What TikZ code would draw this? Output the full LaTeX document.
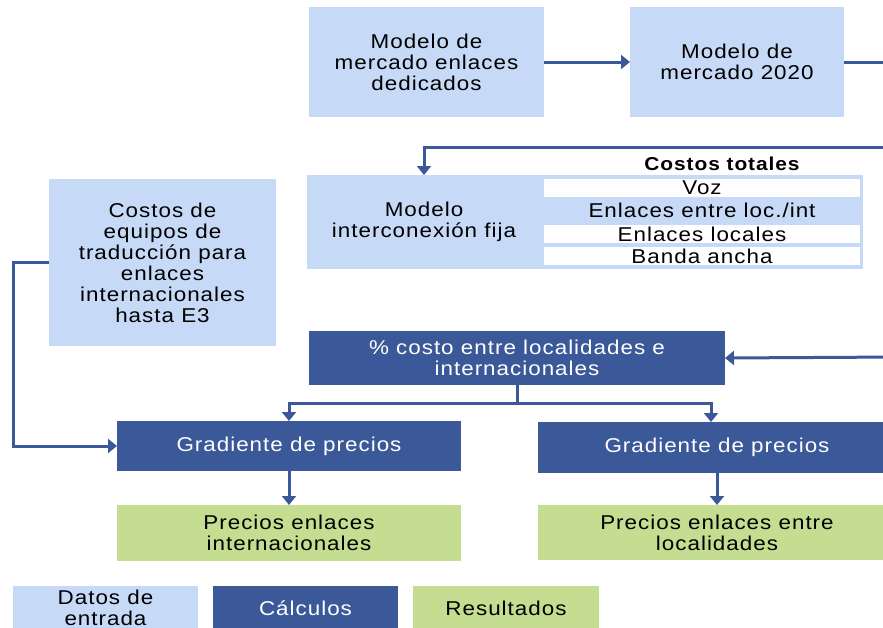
\documentclass[tikz,border=0pt]{standalone}
\usepackage{fontspec}
\setmainfont[LetterSpace=5,FakeStretch=1.12]{Liberation Sans}
\usetikzlibrary{arrows.meta}
\definecolor{lblue}{RGB}{198,217,246}
\definecolor{dblue}{RGB}{59,89,152}
\definecolor{lgreen}{RGB}{197,221,144}
\begin{document}
\begin{tikzpicture}[x=0.75pt,y=-0.75pt,
  every node/.style={inner sep=0pt, outer sep=0pt, align=center, font=\fontsize{15}{15.75}\selectfont},
  inbox/.style={fill=lblue, text=black},
  calcbox/.style={fill=dblue, text=white},
  resbox/.style={fill=lgreen, text=black},
  rowbox/.style={fill=white, minimum width=237pt, minimum height=13.5pt},
  conn/.style={draw=dblue, line width=2.25pt},
  arr/.style={conn, -{Triangle[length=6.75pt,width=10.5pt]}}
]
\useasboundingbox (0,0) rectangle (883,628);
\clip (0,0) rectangle (883,628);

% input boxes
\node[inbox, minimum width=176.25pt, minimum height=82.5pt] (A) at (426.5,62) {Modelo de\\mercado enlaces\\dedicados};
\node[inbox, minimum width=160.5pt, minimum height=82.5pt] (B) at (737,62) {Modelo de\\mercado 2020};
\node[inbox, minimum width=175.5pt, minimum height=70.5pt] (C) at (424,222) {Modelo\\interconexión fija};
\node[inbox, minimum width=241.5pt, minimum height=70.5pt] (T) at (702,222) {};
\node[font=\fontsize{14}{16}\bfseries] (TT) at (722,164) {Costos totales};
\node[rowbox] (R1) at (702,188) {Voz};
\node (R2) at (702,210.5) {Enlaces entre loc./int};
\node[rowbox] (R3) at (702,234) {Enlaces locales};
\node[rowbox] (R4) at (702,256) {Banda ancha};
\node[inbox, minimum width=170.25pt, minimum height=125.25pt] (D) at (162.5,262.5) {Costos de\\equipos de\\traducción para\\enlaces\\internacionales\\hasta E3};

% calculation boxes
\node[calcbox, minimum width=312pt, minimum height=40.5pt] (E) at (517,358) {\% costo entre localidades e\\internacionales};
\node[calcbox, minimum width=258pt, minimum height=37.5pt] (F) at (289,446) {Gradiente de precios};
\node[calcbox, minimum width=268.5pt, minimum height=38.25pt] (G) at (717,447.5) {Gradiente de precios};

% results
\node[resbox, minimum width=258pt, minimum height=42pt] (H) at (289,533) {Precios enlaces\\internacionales};
\node[resbox, minimum width=268.5pt, minimum height=41.25pt] (I) at (717,532.5) {Precios enlaces entre\\localidades};

% legend
\node[inbox, minimum width=138.75pt, minimum height=33pt] (L1) at (105.5,608) {Datos de\\entrada};
\node[calcbox, minimum width=138.75pt, minimum height=33pt] (L2) at (305.5,608) {Cálculos};
\node[resbox, minimum width=139.5pt, minimum height=33pt] (L3) at (506,608) {Resultados};

% connectors
\coordinate (rB) at (900,62);
\coordinate (rC) at (900,147);
\coordinate (rE) at (900,357);
\coordinate (split) at (517,403);
\draw[arr] (A) -- (B);
\draw[conn] (B.east) -- (rB);
\draw[arr] (rC) -| (C.north);
\draw[arr] (rE) -- (E.east);
\draw[arr] (D.west) -- ++(-36,0) |- (F.west);
\draw[conn] (E.south) -- (split);
\draw[arr] (split) -| (F.north);
\draw[arr] (split) -| ([xshift=-4.5pt]G.north);
\draw[arr] (F) -- (H);
\draw[arr] (G) -- (I);
\end{tikzpicture}
\end{document}
